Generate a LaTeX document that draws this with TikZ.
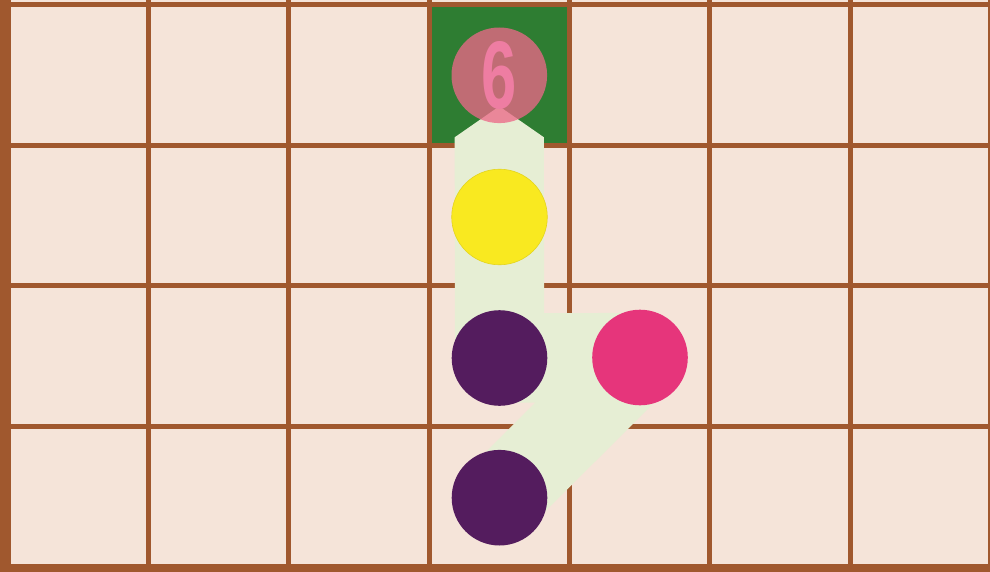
\documentclass[tikz,border=0pt]{standalone}
\usepackage{fontspec}
\setmainfont{Liberation Sans}
\usetikzlibrary{calc}

\definecolor{boardbg}{RGB}{245,228,217}
\definecolor{gridbrown}{RGB}{160,88,46}
\definecolor{goalgreen}{RGB}{46,125,50}
\definecolor{trailcol}{RGB}{230,238,212}
\definecolor{ballyellow}{RGB}{249,233,32}
\definecolor{ballpurple}{RGB}{84,28,94}
\definecolor{ballpink}{RGB}{230,53,123}
\definecolor{goalpink}{RGB}{236,104,136}
\definecolor{digitpink}{RGB}{238,125,162}

\begin{document}
\begin{tikzpicture}[
    x=1pt, y=-1pt,
    gridline/.style={gridbrown, line width=5pt},
    trail/.style={trailcol, line width=89.3pt, line cap=butt},
    ball/.style={
        circle,
        minimum size=95.6pt,
        inner sep=0pt
    },
    goal/.style={ball, fill=goalpink, fill opacity=0.77, text opacity=1,
        text=digitpink, font=\fontsize{96}{96}\selectfont\bfseries}
]
\useasboundingbox (0,0) rectangle (990,572);

% Board
\fill[boardbg] (0,0) rectangle (990,572);
\fill[goalgreen] (429,4.8) rectangle (569.5,145.2);

% Vertical lines
\draw[gridline] (8,0) -- (8,572);
\draw[gridline] (148.3,0) -- (148.3,572);
\draw[gridline] (288.7,0) -- (288.7,572);
\draw[gridline] (429,0) -- (429,572);
\draw[gridline] (569.4,0) -- (569.4,572);
\draw[gridline] (709.7,0) -- (709.7,572);
\draw[gridline] (850,0) -- (850,572);
\draw[gridline] (990.4,0) -- (990.4,572);

% Horizontal lines
\draw[gridline] (0,4.8) -- (990,4.8);
\draw[gridline] (0,145.2) -- (990,145.2);
\draw[gridline] (0,285.6) -- (990,285.6);
\draw[gridline] (0,426) -- (990,426);
\draw[gridline] (0,566.4) -- (990,566.4);

% Outer border
\fill[gridbrown] (0,0) rectangle (9.5,572);
\fill[gridbrown] (0,565) rectangle (990,572);

% Ball positions
\coordinate (g6) at (499.3,75.3);
\coordinate (y1) at (499.5,217);
\coordinate (p1) at (499.5,358);
\coordinate (k1) at (640,357.5);
\coordinate (p2) at (499.5,497.7);

% Trail
\fill[trailcol] ($(g6)+(-44.6,62)$) -- ($(g6)+(0,31)$) -- ($(g6)+(44.6,62)$)
    -- ($(p1)+(44.6,0)$) -- ($(p1)+(-44.6,0)$) -- cycle;
\draw[trail] (p1) -- (k1);
\draw[trail, line width=84pt] (k1) -- (p2);

% Balls
\node[ball, fill=ballyellow, draw=ballyellow!85!black!60!ballyellow, line width=0.6pt] (yel) at (y1) {};
\node[ball, fill=ballpurple] (pur1) at (p1) {};
\node[ball, fill=ballpink] (pnk) at (k1) {};
\node[ball, fill=ballpurple] (pur2) at (p2) {};
\node[goal] (six) at (g6) {\raisebox{-2pt}{\scalebox{0.66}[1]{6}}};

\end{tikzpicture}
\end{document}
